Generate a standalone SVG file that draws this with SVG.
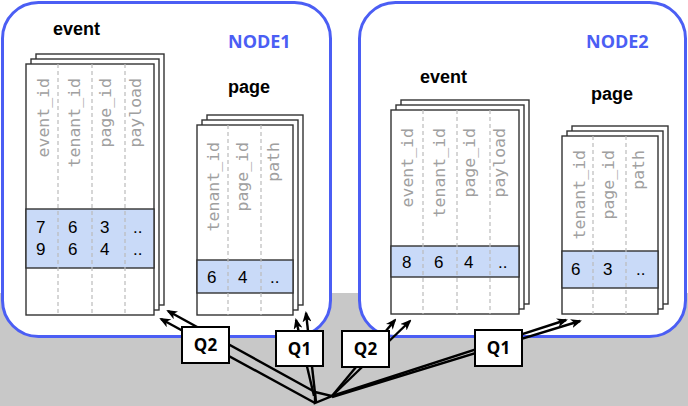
<svg xmlns="http://www.w3.org/2000/svg" width="688" height="406" viewBox="0 0 688 406">
<style>
.node{fill:#fff;stroke:#4b5ef4;stroke-width:3}
.nlbl{font-family:"Open Sans","Liberation Sans",sans-serif;font-weight:bold;font-size:18px;fill:#4b5ef4}
.title{font-family:"Liberation Sans",Arial,sans-serif;font-weight:bold;font-size:18px;fill:#000}
.sheet{fill:#fff;stroke:#333;stroke-width:1.4}
.band{fill:#c9daf8;stroke:#333;stroke-width:1.4}
.div{fill:none;stroke:#bbb;stroke-width:1.2;stroke-dasharray:4 3}
.hdr{font-family:"DejaVu Sans Mono","Liberation Mono",monospace;font-size:16.5px;fill:#a0a0a0;text-anchor:end}
.num{font-family:"Liberation Sans",Arial,sans-serif;font-size:17px;fill:#000}
.conn{fill:none;stroke:#000;stroke-width:2.4}
.qbox{fill:#fff;stroke:#000;stroke-width:2}
.qtxt{font-family:"Open Sans","Liberation Sans",sans-serif;font-weight:bold;font-size:17px;fill:#000;text-anchor:middle}
</style>
<defs>
<marker id="ah" markerWidth="11" markerHeight="9" refX="9" refY="4.5" orient="auto" markerUnits="userSpaceOnUse">
<path d="M0,0 L11,4.5 L0,9 L3,4.5 z" fill="#000"/>
</marker>
</defs>
<rect x="0" y="293" width="688" height="113" fill="#c8c8c8"/>

<g id="node1">
<rect class="node" x="2.5" y="2.5" width="328" height="334" rx="36" ry="36"/>
<text class="nlbl" x="228" y="48">NODE1</text>
</g>
<g id="node2">
<rect class="node" x="359.5" y="2.5" width="326" height="334" rx="36" ry="36"/>
<text class="nlbl" x="586" y="48">NODE2</text>
</g>

<g id="node1-event">
<text class="title" x="53" y="35">event</text>
<rect class="sheet" x="36" y="54" width="128" height="251"/>
<rect class="sheet" x="31" y="59" width="128" height="251"/>
<rect class="sheet" x="26" y="64" width="128" height="251"/>
<rect class="band" x="26" y="209" width="128" height="59"/>
<path class="div" d="M58,64V315M92,64V315M125,64V315"/>
<text class="hdr" transform="translate(49,78) rotate(-90)">event_id</text>
<text class="hdr" transform="translate(80,78) rotate(-90)">tenant_id</text>
<text class="hdr" transform="translate(111,78) rotate(-90)">page_id</text>
<text class="hdr" transform="translate(141,78) rotate(-90)">payload</text>
<text class="num" x="36" y="233">7</text>
<text class="num" x="68" y="233">6</text>
<text class="num" x="100" y="233">3</text>
<text class="num" x="133" y="233">..</text>
<text class="num" x="36" y="255">9</text>
<text class="num" x="68" y="255">6</text>
<text class="num" x="100" y="255">4</text>
<text class="num" x="133" y="255">..</text>
</g>

<g id="node1-page">
<text class="title" x="228" y="93">page</text>
<rect class="sheet" x="207" y="115" width="96" height="190"/>
<rect class="sheet" x="202" y="120" width="96" height="190"/>
<rect class="sheet" x="197" y="125" width="96" height="190"/>
<rect class="band" x="197" y="260" width="96" height="33"/>
<path class="div" d="M228,125V315M261,125V315"/>
<text class="hdr" transform="translate(219,142) rotate(-90)">tenant_id</text>
<text class="hdr" transform="translate(248,142) rotate(-90)">page_id</text>
<text class="hdr" transform="translate(279,142) rotate(-90)">path</text>
<text class="num" x="207" y="283">6</text>
<text class="num" x="238" y="283">4</text>
<text class="num" x="270" y="283">..</text>
</g>

<g id="node2-event">
<text class="title" x="420" y="83">event</text>
<rect class="sheet" x="401" y="100" width="128" height="204"/>
<rect class="sheet" x="396" y="105" width="128" height="204"/>
<rect class="sheet" x="391" y="110" width="128" height="204"/>
<rect class="band" x="391" y="246" width="128" height="31"/>
<path class="div" d="M423,110V314M457,110V314M490,110V314"/>
<text class="hdr" transform="translate(413,128) rotate(-90)">event_id</text>
<text class="hdr" transform="translate(445,128) rotate(-90)">tenant_id</text>
<text class="hdr" transform="translate(475,128) rotate(-90)">page_id</text>
<text class="hdr" transform="translate(505,128) rotate(-90)">payload</text>
<text class="num" x="402" y="268">8</text>
<text class="num" x="434" y="268">6</text>
<text class="num" x="464" y="268">4</text>
<text class="num" x="498" y="268">..</text>
</g>

<g id="node2-page">
<text class="title" x="591" y="100">page</text>
<rect class="sheet" x="572" y="126" width="96" height="178"/>
<rect class="sheet" x="567" y="131" width="96" height="178"/>
<rect class="sheet" x="562" y="136" width="96" height="178"/>
<rect class="band" x="562" y="251" width="96" height="37"/>
<path class="div" d="M593,136V314M626,136V314"/>
<text class="hdr" transform="translate(585,150) rotate(-90)">tenant_id</text>
<text class="hdr" transform="translate(614,150) rotate(-90)">page_id</text>
<text class="hdr" transform="translate(644,150) rotate(-90)">path</text>
<text class="num" x="571" y="275">6</text>
<text class="num" x="603" y="275">3</text>
<text class="num" x="636" y="275">..</text>
</g>

<g id="connectors">
<path class="conn" d="M315,392 L332,396 L315,403 Z"/>
<line class="conn" x1="315" y1="392" x2="168" y2="311" marker-end="url(#ah)"/>
<line class="conn" x1="315" y1="403" x2="161" y2="319" marker-end="url(#ah)"/>
<line class="conn" x1="316" y1="402" x2="306" y2="313" marker-end="url(#ah)"/>
<line class="conn" x1="314" y1="396" x2="296" y2="320" marker-end="url(#ah)"/>
<line class="conn" x1="332" y1="396" x2="395" y2="320" marker-end="url(#ah)"/>
<line class="conn" x1="332" y1="396" x2="410" y2="321" marker-end="url(#ah)"/>
<line class="conn" x1="332" y1="396" x2="566" y2="320" marker-end="url(#ah)"/>
<line class="conn" x1="332" y1="397" x2="580" y2="321" marker-end="url(#ah)"/>
</g>

<g id="q2-node1">
<rect class="qbox" x="182" y="327" width="47" height="36"/>
<text class="qtxt" x="205.5" y="351">Q2</text>
</g>
<g id="q1-node1">
<rect class="qbox" x="276" y="331" width="47" height="35"/>
<text class="qtxt" x="299.5" y="354.5">Q1</text>
</g>
<g id="q2-node2">
<rect class="qbox" x="342" y="331" width="47" height="36"/>
<text class="qtxt" x="365.5" y="355">Q2</text>
</g>
<g id="q1-node2">
<rect class="qbox" x="475" y="330" width="47" height="36"/>
<text class="qtxt" x="498.5" y="354">Q1</text>
</g>
</svg>
